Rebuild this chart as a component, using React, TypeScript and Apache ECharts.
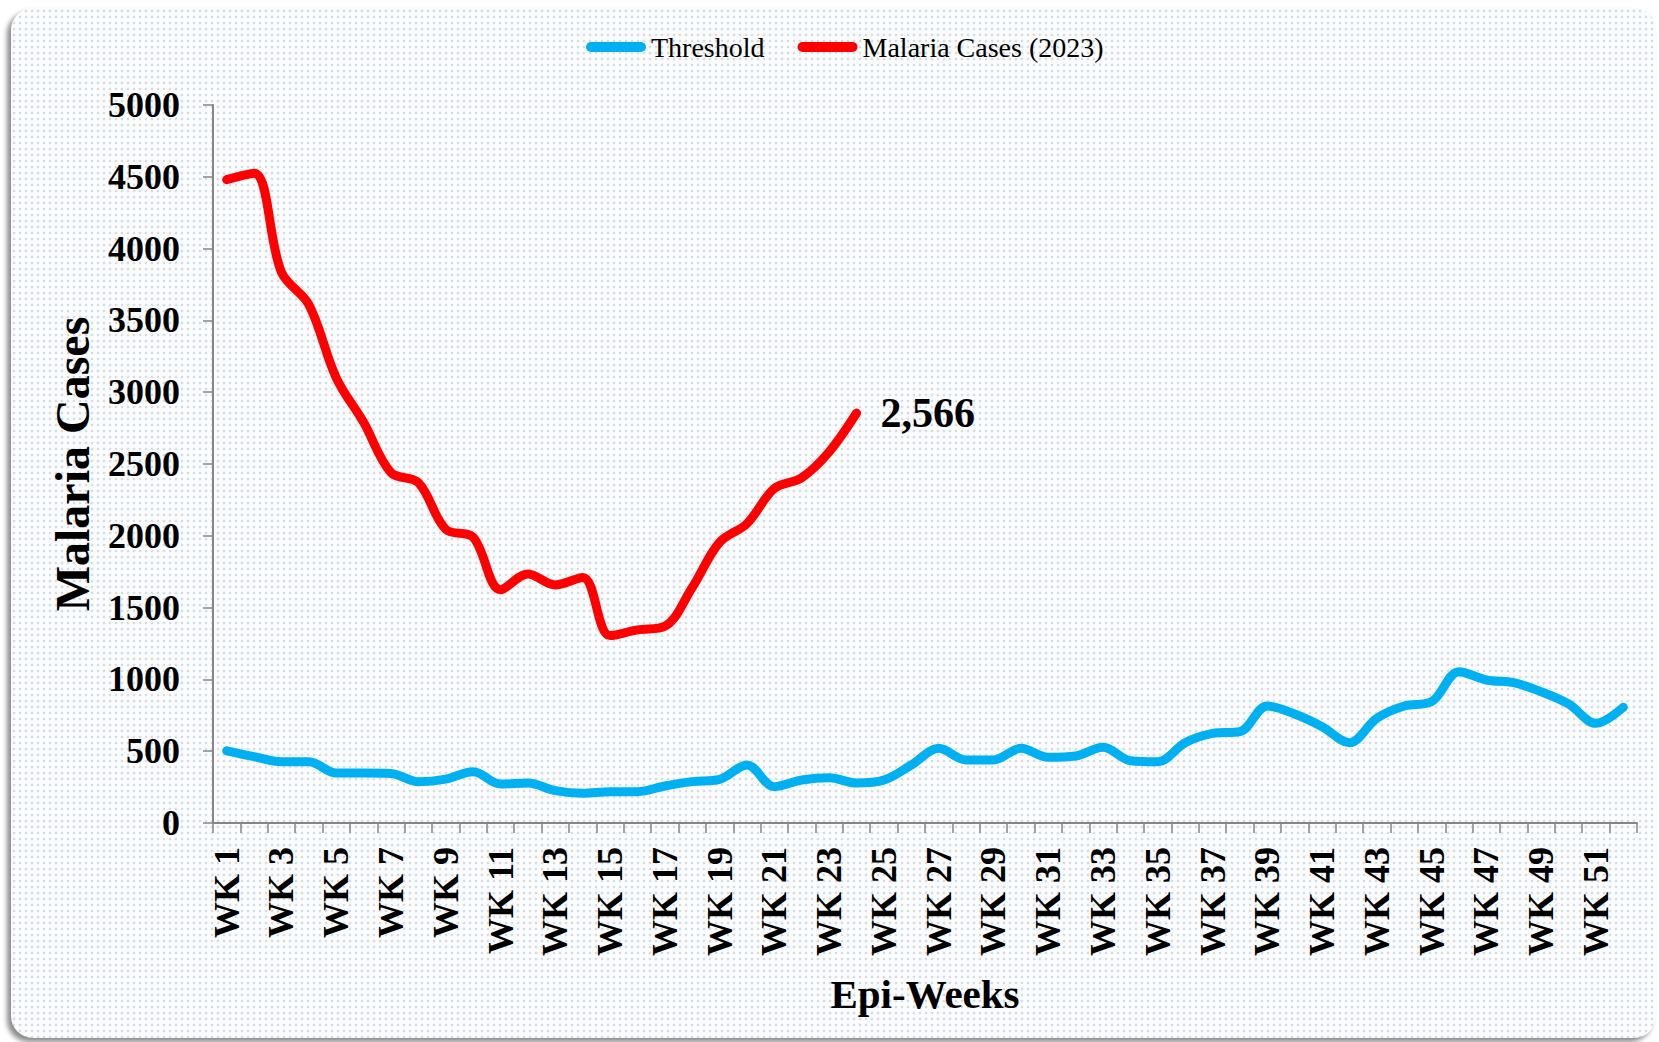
import React, { useEffect, useRef } from "react";
import * as echarts from "echarts";

const FONT = '"Liberation Serif", "Times New Roman", Times, serif';

const WEEKS = [
  "WK 1", "WK 2", "WK 3", "WK 4", "WK 5", "WK 6", "WK 7", "WK 8", "WK 9", "WK 10",
  "WK 11", "WK 12", "WK 13", "WK 14", "WK 15", "WK 16", "WK 17", "WK 18", "WK 19", "WK 20",
  "WK 21", "WK 22", "WK 23", "WK 24", "WK 25", "WK 26", "WK 27", "WK 28", "WK 29", "WK 30",
  "WK 31", "WK 32", "WK 33", "WK 34", "WK 35", "WK 36", "WK 37", "WK 38", "WK 39", "WK 40",
  "WK 41", "WK 42", "WK 43", "WK 44", "WK 45", "WK 46", "WK 47", "WK 48", "WK 49", "WK 50",
  "WK 51", "WK 52",
];

const THRESHOLD = [
  503, 462, 427, 427, 348, 348, 345, 288, 306, 357,
  271, 278, 225, 207, 218, 218, 258, 288, 304, 404,
  253, 299, 315, 278, 299, 404, 520, 439, 439, 520,
  457, 466, 527, 434, 427, 559, 624, 636, 815, 759,
  671, 559, 729, 815, 845, 1054, 996, 977, 914, 829,
  694, 806,
];

const MALARIA_2023 = [
  4480, 4525, 3835, 3610, 3100, 2790, 2440, 2370, 2045, 1990,
  1625, 1734, 1658, 1710, 1305, 1345, 1370, 1640, 1955, 2085,
  2330, 2405, 2585, 2855,
];

const LAST_LABEL = "2,566";

const Y_MIN = 0;
const Y_MAX = 5000;
const Y_STEP = 500;

export default function App() {
  const ref = useRef<HTMLDivElement>(null);

  useEffect(() => {
    if (!ref.current) return;
    const chart = echarts.init(ref.current, null, { renderer: "svg" });

    const legendIcon =
      "path://M5,0 L55,0 A5,5 0 0 1 55,10 L5,10 A5,5 0 0 1 5,0 Z";

    chart.setOption({
      animation: false,
      backgroundColor: "transparent",
      legend: {
        left: 581,
        top: 28,
        itemWidth: 60,
        itemHeight: 10,
        itemGap: 33,
        icon: legendIcon,
        textStyle: { fontFamily: FONT, fontSize: 28, color: "#000" },
        data: ["Threshold", "Malaria Cases (2023)"],
      },
      grid: { left: 213, right: 22, top: 105, bottom: 219, containLabel: false },
      xAxis: {
        type: "category",
        data: WEEKS,
        boundaryGap: true,
        name: "Epi-Weeks",
        nameLocation: "middle",
        nameGap: 150,
        nameTextStyle: { fontFamily: FONT, fontWeight: "bold", fontSize: 41, color: "#000" },
        axisLine: { show: true, lineStyle: { color: "#868686", width: 2 } },
        axisTick: { show: true, interval: 0, length: 10, lineStyle: { color: "#868686", width: 1.5 } },
        axisLabel: {
          interval: 1,
          rotate: 90,
          margin: 24,
          fontFamily: FONT,
          fontWeight: "bold",
          fontSize: 36,
          color: "#000",
        },
        splitLine: { show: false },
      },
      yAxis: {
        type: "value",
        min: Y_MIN,
        max: Y_MAX,
        interval: Y_STEP,
        name: "Malaria Cases",
        nameLocation: "middle",
        nameGap: 117,
        nameTextStyle: { fontFamily: FONT, fontWeight: "bold", fontSize: 48, color: "#000" },
        axisLine: { show: true, lineStyle: { color: "#868686", width: 2 } },
        axisTick: { show: true, length: 10, lineStyle: { color: "#868686", width: 1.5 } },
        axisLabel: {
          margin: 33,
          fontFamily: FONT,
          fontWeight: "bold",
          fontSize: 36,
          color: "#000",
          formatter: (v: number) => String(v),
        },
        splitLine: { show: false },
      },
      series: [
        {
          name: "Threshold",
          type: "line",
          data: THRESHOLD,
          smooth: 0.35,
          showSymbol: false,
          symbol: "none",
          lineStyle: { color: "#00B0F0", width: 9, cap: "round", join: "round" },
          itemStyle: { color: "#00B0F0" },
          z: 2,
        },
        {
          name: "Malaria Cases (2023)",
          type: "line",
          data: MALARIA_2023,
          smooth: 0.35,
          showSymbol: false,
          symbol: "none",
          lineStyle: { color: "#FF0000", width: 9, cap: "round", join: "round" },
          itemStyle: { color: "#FF0000" },
          endLabel: {
            show: true,
            distance: 24,
            formatter: () => LAST_LABEL,
            fontFamily: FONT,
            fontWeight: "bold",
            fontSize: 42,
            color: "#000",
          },
          z: 3,
        },
      ],
    });

    return () => chart.dispose();
  }, []);

  return (
    <div
      style={{
        position: "fixed",
        left: 0,
        top: 0,
        width: 1659,
        height: 1042,
        background: "#ffffff",
        overflow: "hidden",
      }}
    >
      <div
        style={{
          position: "absolute",
          left: 11,
          top: 8,
          width: 1645,
          height: 1030,
          borderRadius: 22,
          backgroundColor: "#fbfcfd",
          backgroundImage:
            "radial-gradient(circle, #d6dce4 1.1px, rgba(255,255,255,0) 1.7px)",
          backgroundSize: "6px 6px",
          boxShadow: "-4px 4px 5px rgba(0,0,0,0.45)",
        }}
      />
      <div
        ref={ref}
        style={{ position: "absolute", left: 0, top: 0, width: 1659, height: 1042 }}
      />
    </div>
  );
}
